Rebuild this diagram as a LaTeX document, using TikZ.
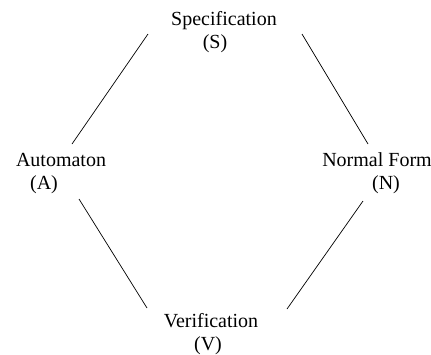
\documentclass[tikz,border=0pt]{standalone}
\usepackage{fontspec}
\setmainfont{Liberation Serif}
\usepackage{tikz}
\usetikzlibrary{calc}
\tikzset{
  cycname/.style={inner sep=0pt,anchor=base,font=\fontsize{20}{23}\selectfont},
  cyctag/.style={inner sep=0pt,anchor=base,font=\fontsize{20}{23}\selectfont},
  cycedge/.style={line width=0.7pt,black},
}
\begin{document}
\begin{tikzpicture}[x=1pt,y=-1pt]
\useasboundingbox (0,0) rectangle (431,354);
\node[cycname] (spec) at (224,25) {Specification};
\node[cyctag] (s) at (215,48) {(S)};
\node[cycname] (aut) at (61,166) {Automaton};
\node[cyctag] (a) at (44,189) {(A)};
\node[cycname] (nf) at (377,166) {Normal Form};
\node[cyctag] (n) at (386,189) {(N)};
\node[cycname] (ver) at (211,327) {Verification};
\node[cyctag] (v) at (208,350) {(V)};
\draw[cycedge]($(spec.base)+(-76,9)$)--($(aut.base)+(11,-22)$);
\draw[cycedge]($(spec.base)+(78,9)$)--($(nf.base)+(-9,-22)$);
\draw[cycedge]($(a.base)+(35,10)$)--($(ver.base)+(-64,-19)$);
\draw[cycedge]($(n.base)+(-23,12)$)--($(ver.base)+(76,-18)$);
\end{tikzpicture}
\end{document}
